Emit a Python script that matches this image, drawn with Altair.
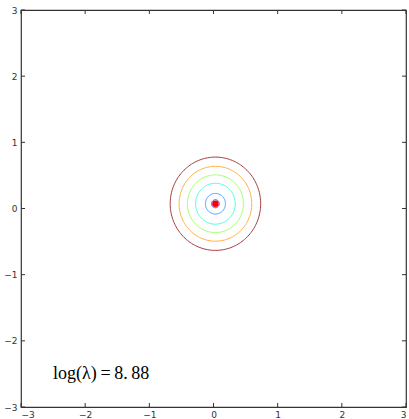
import altair as alt
import numpy as np
import pandas as pd

# Contour levels of the objective around its minimum (radius in data units)
level_radii = [0.06, 0.156, 0.309, 0.436, 0.566, 0.705]
level_colors = ["#2040ff", "#3c9cff", "#40ffd8", "#a0ff68", "#ffb040", "#a83a3a"]
center_x = [0.03]
center_y = [0.072]
tick_values = [-3, -2, -1, 0, 1, 2, 3]
label_text = ["log(λ)\u2009=\u20098.\u200988"]
label_x = [-2.5]
label_y = [-2.5]

W, H = 385, 397

theta = np.linspace(0, 2 * np.pi, 181)
rows = []
for i, r in enumerate(level_radii):
    for k, t in enumerate(theta):
        rows.append({"level": i, "order": k,
                     "x": center_x[0] + r * np.cos(t),
                     "y": center_y[0] + r * np.sin(t)})
contours = pd.DataFrame(rows)

xs = alt.Scale(domain=[-3, 3], nice=False, zero=False)
ys = alt.Scale(domain=[-3, 3], nice=False, zero=False)

axis_common = dict(values=tick_values, grid=False, ticks=False, domain=False, format="d",
                   labelFont="DejaVu Sans", labelFontSize=9, labelColor="#333333",
                   title=None)

base = alt.Chart(contours)

lines = base.mark_line(strokeWidth=1, clip=True).encode(
    x=alt.X("x:Q", scale=xs, axis=alt.Axis(labelPadding=3, **axis_common)),
    y=alt.Y("y:Q", scale=ys, axis=alt.Axis(labelPadding=4, **axis_common)),
    detail="level:N",
    order="order:Q",
    color=alt.Color("level:N",
                    scale=alt.Scale(domain=list(range(len(level_radii))), range=level_colors),
                    legend=None),
)

dot = alt.Chart(pd.DataFrame({"x": center_x, "y": center_y})).mark_point(
    filled=True, color="#ff0000", size=42, opacity=1, shape="circle"
).encode(x=alt.X("x:Q", scale=xs), y=alt.Y("y:Q", scale=ys))

label = alt.Chart(pd.DataFrame({"x": label_x, "y": label_y, "t": label_text})).mark_text(
    align="left", baseline="middle", font="Liberation Serif", fontSize=18, color="#000000"
).encode(x=alt.X("x:Q", scale=xs), y=alt.Y("y:Q", scale=ys), text="t:N")

ticks = pd.DataFrame({"t": tick_values})
tick_len = 4
tick_color = "#333333"
tb = alt.Chart(ticks).mark_rule(color=tick_color, strokeWidth=1)
tick_bottom = tb.encode(x=alt.X("t:Q", scale=xs), y=alt.value(H), y2=alt.value(H - tick_len))
tick_top = tb.encode(x=alt.X("t:Q", scale=xs), y=alt.value(0), y2=alt.value(tick_len))
tick_left = tb.encode(y=alt.Y("t:Q", scale=ys), x=alt.value(0), x2=alt.value(tick_len))
tick_right = tb.encode(y=alt.Y("t:Q", scale=ys), x=alt.value(W), x2=alt.value(W - tick_len))

chart = alt.layer(
    lines, dot, label, tick_bottom, tick_top, tick_left, tick_right
).properties(
    width=W, height=H,
    autosize=alt.AutoSizeParams(type="none"),
    padding={"left": 21, "top": 10, "right": 3, "bottom": 12},
    background="#ffffff",
).configure_view(
    stroke="#333333", strokeWidth=1.2
)

chart.save("out.html", embed_options={"renderer": "svg", "actions": False})
